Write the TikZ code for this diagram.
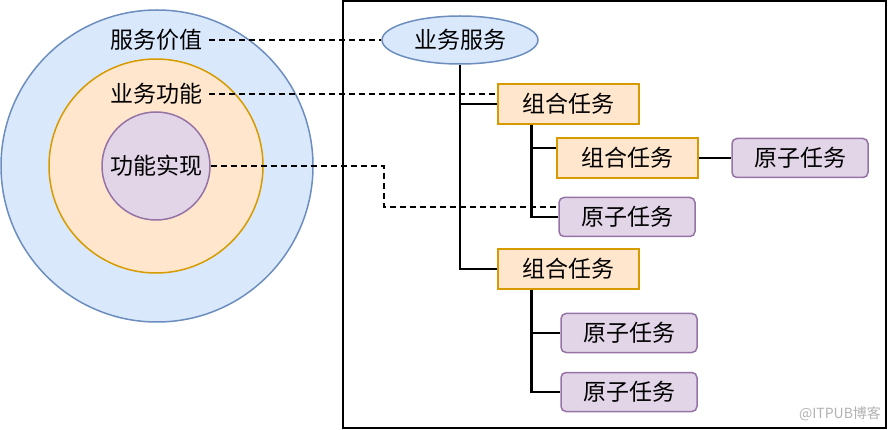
\documentclass[tikz,border=0pt]{standalone}
\usepackage{fontspec}
\setmainfont{Noto Sans CJK SC}
\usepackage{tikz}
\usepackage{xcolor}
\usetikzlibrary{shapes.geometric, positioning, calc}

\definecolor{bluefill}{HTML}{DAE8FC}
\definecolor{blueline}{HTML}{6C8EBF}
\definecolor{orangefill}{HTML}{FFE6CC}
\definecolor{orangeline}{HTML}{D79B00}
\definecolor{purplefill}{HTML}{E1D5E7}
\definecolor{purpleline}{HTML}{9673A6}

\begin{document}
\begin{tikzpicture}[x=1pt, y=-1pt,
    txt/.style={font=\fontsize{23}{27}\selectfont},
    ring/.style={circle, line width=1.5pt, inner sep=0pt},
    combo/.style={rectangle, draw=orangeline, fill=orangefill, line width=2pt, minimum width=141pt, minimum height=40pt, inner sep=0pt, txt},
    atom/.style={rectangle, rounded corners=5pt, draw=purpleline, fill=purplefill, line width=1.5pt, minimum width=136pt, minimum height=39pt, inner sep=0pt, txt},
    link/.style={line width=2.2pt},
    guide/.style={line width=1.6pt, dash pattern=on 6pt off 4pt}]
\useasboundingbox (0,0) rectangle (889,430);

% Layers
\node[ring, draw=blueline, fill=bluefill, minimum size=312pt] (outer) at (157,166) {};
\node[ring, draw=orangeline, fill=orangefill, minimum size=214pt] (middle) at (156,166) {};
\node[ring, draw=purpleline, fill=purplefill, minimum size=108pt, txt] (inner) at (156,166) {功能实现};
\node[txt, inner xsep=7pt] (value) at (156,40) {服务价值};
\node[txt, inner xsep=7pt] (func) at (156,94) {业务功能};

% Task tree
\draw[line width=2pt] (343,1) rectangle (886,428);
\node[ellipse, draw=blueline, fill=bluefill, line width=1.5pt, minimum width=156pt, minimum height=48pt, inner sep=0pt, txt] (svc) at (460,40) {业务服务};
\node[combo] (comp1) at (568,104) {组合任务};
\node[combo] (comp2) at (627,158) {组合任务};
\node[atom] (atomA) at (800,158) {原子任务};
\node[atom] (atomB) at (627,217) {原子任务};
\node[combo] (comp3) at (568,269) {组合任务};
\node[atom] (atomC) at (629,333) {原子任务};
\node[atom] (atomD) at (629,392) {原子任务};

\draw[link] (svc.south) |- (comp3.west);
\draw[link] (svc.south |- comp1.west) -- (comp1.west);
\draw[link] ([xshift=35pt]comp1.south west) |- ([yshift=10pt]comp2.west);
\draw[link] ([xshift=35pt]comp1.south west) |- (atomB.west);
\draw[link] (comp2.east) -- (atomA.west);
\draw[link] ([xshift=35pt]comp3.south west) |- (atomC.west);
\draw[link] ([xshift=35pt]comp3.south west) |- (atomD.west);

% Mapping
\coordinate (bend) at (384,166);
\draw[guide] (value.east) -- (svc.west);
\draw[guide] (func.east) -- (func.east -| comp1.west);
\draw[guide] (inner.east) -- (inner.east -| bend) |- ([yshift=10pt]atomB.west);

\node[font=\fontsize{14}{16}\selectfont, text=gray!60] (mark) at (840,414) {@ITPUB博客};
\end{tikzpicture}
\end{document}
